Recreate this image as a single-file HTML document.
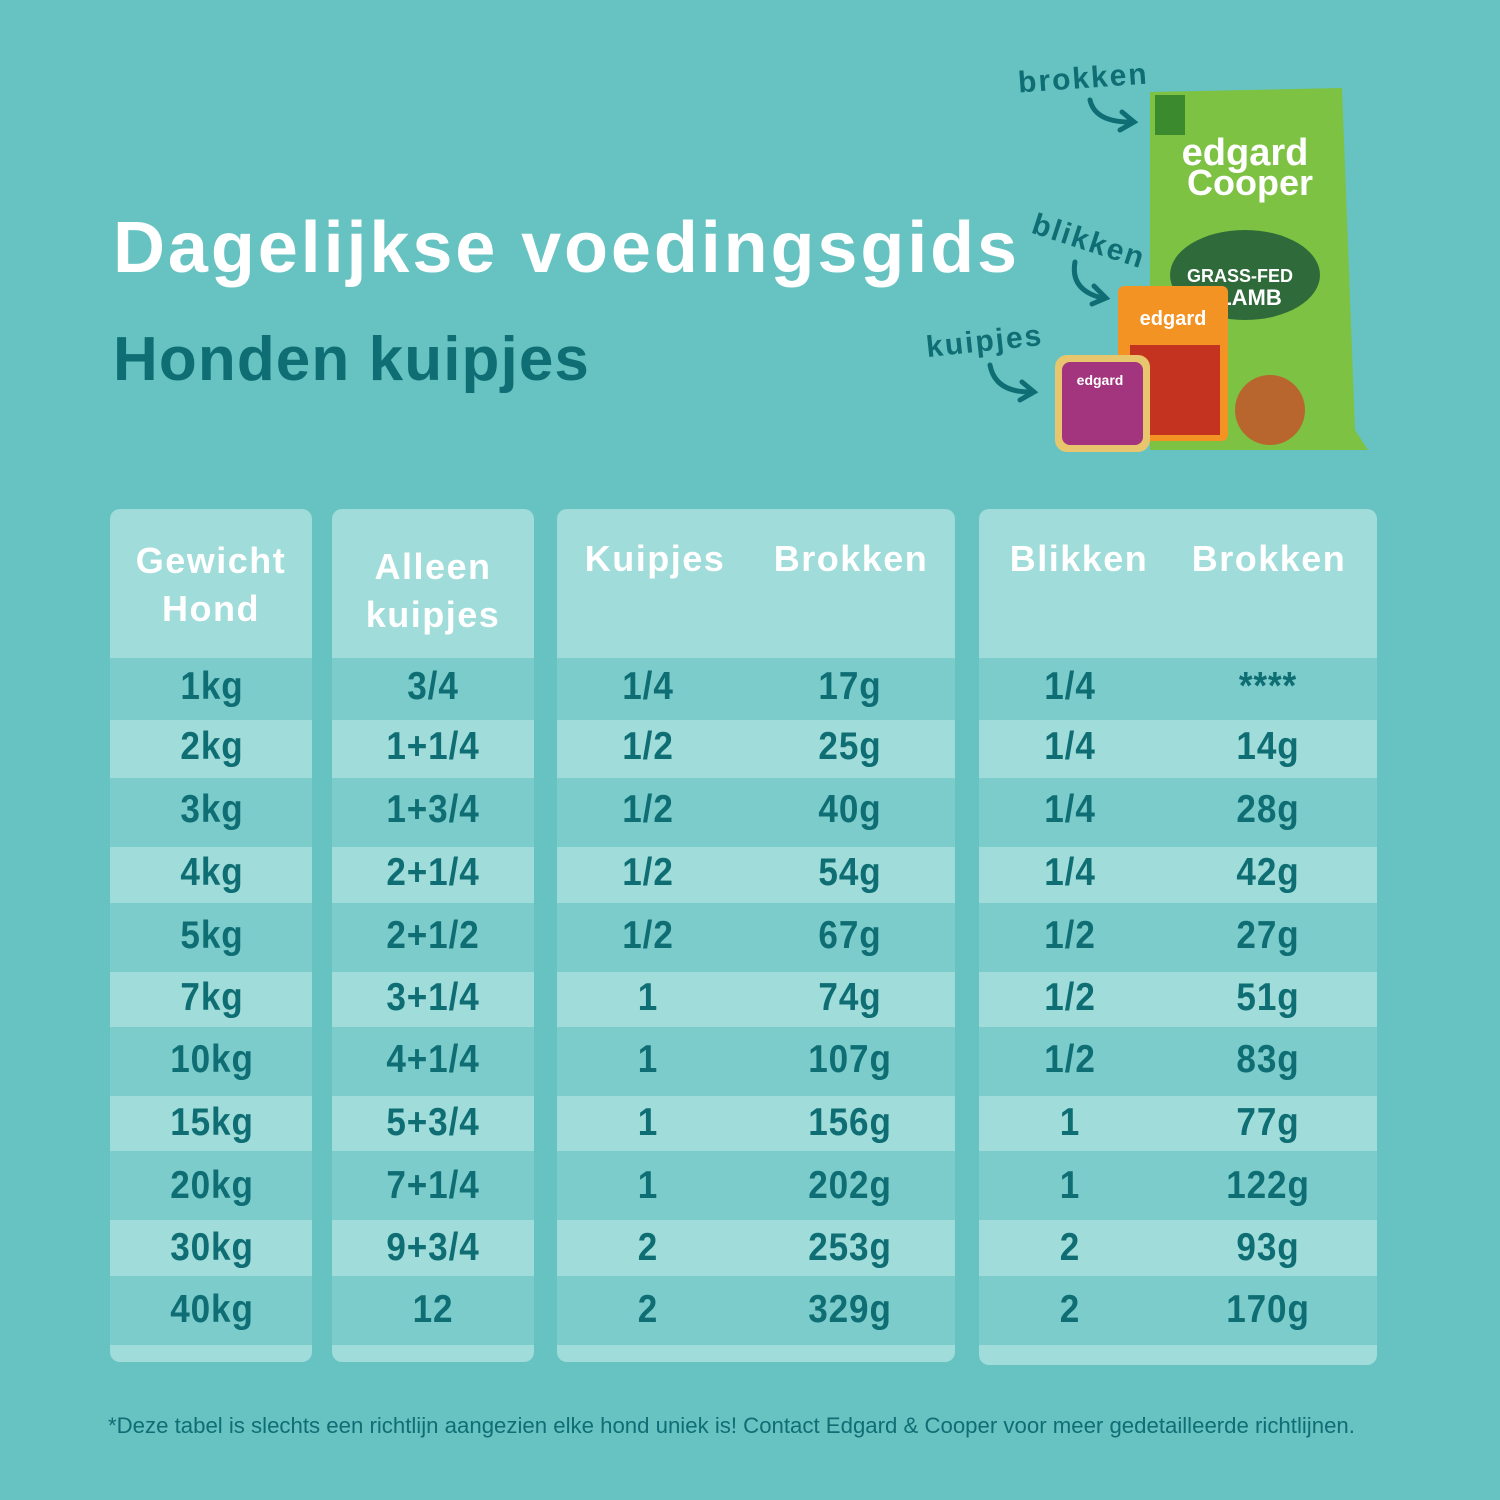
<!DOCTYPE html>
<html><head><style>
body{margin:0;width:1500px;height:1500px;background:#67c3c2;position:relative;overflow:hidden;font-family:"Liberation Sans",sans-serif}
.a{position:absolute}
.panel{position:absolute;top:509px;background:#a0dcd9;border-radius:10px;overflow:hidden}
.h{position:absolute;color:#fff;font-weight:bold;font-size:36px;text-align:center;line-height:48px;letter-spacing:1.5px}
.c{position:absolute;color:#0e6e74;font-weight:bold;font-size:39px;transform:translate(-50%,-50%) scaleX(0.9);white-space:nowrap;letter-spacing:1px}
.lbl{position:absolute;color:#0e6e74;font-weight:bold;font-size:30px;letter-spacing:2px}
</style></head><body>
<div class="a" style="left:113px;top:207px;color:#fff;font-weight:bold;font-size:72px;letter-spacing:2.9px">Dagelijkse voedingsgids</div>
<div class="a" style="left:113px;top:324px;color:#0e6e74;font-weight:bold;font-size:62px;letter-spacing:1.1px">Honden kuipjes</div>

<div class="lbl" style="left:1018px;top:62px;transform:rotate(-4deg)">brokken</div>
<div class="lbl" style="left:1030px;top:225px;transform:rotate(18deg)">blikken</div>
<div class="lbl" style="left:926px;top:325px;transform:rotate(-6deg)">kuipjes</div>
<svg class="a" style="left:0;top:0" width="1500" height="500">
<g fill="none" stroke="#0e6e74" stroke-width="5" stroke-linecap="round">
<path d="M1090 100 Q1095 122 1130 122"/><path d="M1122 112 L1134 122 L1120 130"/>
<path d="M1075 262 Q1070 290 1102 298"/><path d="M1094 286 L1106 298 L1092 304"/>
<path d="M990 365 Q995 392 1030 392"/><path d="M1022 382 L1034 392 L1020 400"/>
</g>
<path d="M1150 92 L1342 88 L1355 430 L1368 450 L1150 450 Z" fill="#7dc242"/>
<rect x="1155" y="95" width="30" height="40" fill="#3c8a2e"/>
<text x="1245" y="165" fill="#fff" font-size="38" font-weight="bold" text-anchor="middle" font-family="Liberation Sans">edgard</text>
<text x="1250" y="195" fill="#fff" font-size="36" font-weight="bold" text-anchor="middle" font-family="Liberation Sans">Cooper</text>
<ellipse cx="1245" cy="275" rx="75" ry="45" fill="#2f6b3a"/>
<text x="1240" y="282" fill="#fff" font-size="18" font-weight="bold" text-anchor="middle" font-family="Liberation Sans">GRASS-FED</text>
<text x="1250" y="305" fill="#fff" font-size="22" font-weight="bold" text-anchor="middle" font-family="Liberation Sans">LAMB</text>
<ellipse cx="1270" cy="410" rx="35" ry="35" fill="#b8662e"/>
<rect x="1118" y="286" width="110" height="155" rx="6" fill="#f39324"/>
<rect x="1130" y="345" width="90" height="90" fill="#c4331f"/>
<text x="1173" y="325" fill="#fff" font-size="20" font-weight="bold" text-anchor="middle" font-family="Liberation Sans">edgard</text>
<rect x="1055" y="355" width="95" height="97" rx="12" fill="#e8c66e"/>
<rect x="1062" y="362" width="81" height="83" rx="8" fill="#a3357f"/>
<text x="1100" y="385" fill="#fff" font-size="14" font-weight="bold" text-anchor="middle" font-family="Liberation Sans">edgard</text>
</svg>

<div class="panel" style="left:110px;width:202px;height:853px">
 <div class="h" style="left:0;right:0;top:28px">Gewicht<br>Hond</div>
</div>
<div class="panel" style="left:332px;width:202px;height:853px">
 <div class="h" style="left:0;right:0;top:34px">Alleen<br>kuipjes</div>
</div>
<div class="panel" style="left:557px;width:398px;height:853px">
 <div class="h" style="left:0;width:196px;top:26px">Kuipjes</div>
 <div class="h" style="left:196px;width:196px;top:26px">Brokken</div>
</div>
<div class="panel" style="left:979px;width:398px;height:856px">
 <div class="h" style="left:0;width:200px;top:26px">Blikken</div>
 <div class="h" style="left:190px;width:200px;top:26px">Brokken</div>
</div>

<div id="bands"></div>
<script>
var bounds=[658,720,778,847,903,972,1027,1096,1151,1220,1276,1345];
var cols=[[110,202],[332,202],[557,398],[979,398]];
var h='';
for(var i=0;i<11;i++){if(i%2==0){cols.forEach(function(c){h+='<div class="a" style="left:'+c[0]+'px;width:'+c[1]+'px;top:'+bounds[i]+'px;height:'+(bounds[i+1]-bounds[i])+'px;background:#7ccccb"></div>';});}}
var data=[
["1kg","3/4","1/4","17g","1/4","****"],
["2kg","1+1/4","1/2","25g","1/4","14g"],
["3kg","1+3/4","1/2","40g","1/4","28g"],
["4kg","2+1/4","1/2","54g","1/4","42g"],
["5kg","2+1/2","1/2","67g","1/2","27g"],
["7kg","3+1/4","1","74g","1/2","51g"],
["10kg","4+1/4","1","107g","1/2","83g"],
["15kg","5+3/4","1","156g","1","77g"],
["20kg","7+1/4","1","202g","1","122g"],
["30kg","9+3/4","2","253g","2","93g"],
["40kg","12","2","329g","2","170g"]];
var xs=[212,433,648,850,1070,1268];
var ys=[687,747,810,873,936,998,1060,1123,1186,1248,1310];
data.forEach(function(r,i){r.forEach(function(t,j){h+='<div class="c" style="left:'+xs[j]+'px;top:'+ys[i]+'px">'+t+'</div>';});});
document.getElementById('bands').innerHTML=h;
</script>
<div class="a" style="left:108px;top:1413px;color:#0e6e74;font-size:22.2px;white-space:nowrap">*Deze tabel is slechts een richtlijn aangezien elke hond uniek is! Contact Edgard &amp; Cooper voor meer gedetailleerde richtlijnen.</div>
</body></html>
